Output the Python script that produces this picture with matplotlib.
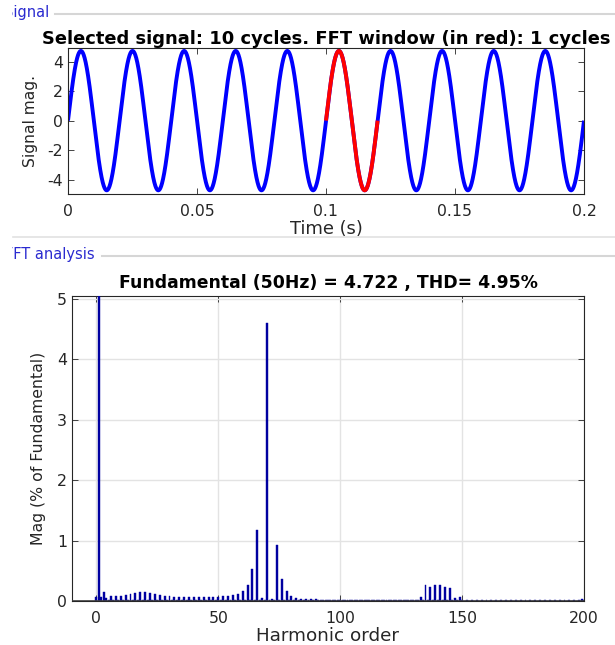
import numpy as np
import matplotlib
matplotlib.use("Agg")
import matplotlib.pyplot as plt
from matplotlib.lines import Line2D
from matplotlib.transforms import Bbox, TransformedBbox

plt.rcParams["font.family"] = ["DejaVu Sans"]
plt.rcParams["axes.unicode_minus"] = False

# --- top panel: selected signal ---
fundamental_hz = 50
fundamental_mag = 4.722
n_cycles = 10
window_start_s = 0.1
window_cycles = 1
time_ticks = [0, 0.05, 0.1, 0.15, 0.2]
time_tick_labels = ["0", "0.05", "0.1", "0.15", "0.2"]
signal_ticks = [-4, -2, 0, 2, 4]

# --- bottom panel: harmonic spectrum, % of fundamental, orders 0..200 ---
harmonic_mag = [
    0.07, 100.0, 0.06, 0.15, 0.05, 0.02, 0.08, 0.02, 0.08, 0.02,      # 0-9
    0.09, 0.02, 0.10, 0.02, 0.11, 0.02, 0.13, 0.02, 0.15, 0.02,       # 10-19
    0.15, 0.02, 0.14, 0.02, 0.12, 0.02, 0.10, 0.02, 0.09, 0.02,       # 20-29
    0.08, 0.02, 0.07, 0.02, 0.07, 0.02, 0.065, 0.02, 0.065, 0.02,     # 30-39
    0.065, 0.02, 0.06, 0.02, 0.06, 0.02, 0.06, 0.02, 0.06, 0.02,      # 40-49
    0.07, 0.02, 0.075, 0.02, 0.09, 0.02, 0.105, 0.02, 0.12, 0.02,     # 50-59
    0.17, 0.02, 0.27, 0.02, 0.53, 0.02, 1.18, 0.02, 0.055, 0.02,      # 60-69
    4.60, 0.02, 0.035, 0.02, 0.93, 0.02, 0.37, 0.02, 0.17, 0.02,      # 70-79
    0.09, 0.02, 0.055, 0.02, 0.04, 0.015, 0.03, 0.015, 0.03, 0.015,   # 80-89
    0.025, 0.01, 0.02, 0.01, 0.02, 0.01, 0.02, 0.01, 0.02, 0.01,      # 90-99
    0.02, 0.01, 0.02, 0.01, 0.02, 0.01, 0.02, 0.01, 0.02, 0.01,       # 100-109
    0.02, 0.01, 0.02, 0.01, 0.02, 0.01, 0.02, 0.01, 0.02, 0.01,       # 110-119
    0.02, 0.01, 0.02, 0.01, 0.02, 0.01, 0.02, 0.01, 0.02, 0.01,       # 120-129
    0.02, 0.02, 0.01, 0.07, 0.01, 0.26, 0.01, 0.24, 0.01, 0.27,       # 130-139
    0.01, 0.27, 0.01, 0.225, 0.01, 0.22, 0.01, 0.055, 0.01, 0.07,     # 140-149
    0.012, 0.0, 0.012, 0.0, 0.012, 0.0, 0.012, 0.0, 0.012, 0.0,       # 150-159
    0.012, 0.0, 0.012, 0.0, 0.012, 0.0, 0.012, 0.0, 0.012, 0.0,       # 160-169
    0.012, 0.0, 0.012, 0.0, 0.012, 0.0, 0.012, 0.0, 0.012, 0.0,       # 170-179
    0.012, 0.0, 0.012, 0.0, 0.012, 0.0, 0.012, 0.0, 0.012, 0.0,       # 180-189
    0.012, 0.0, 0.012, 0.0, 0.012, 0.0, 0.012, 0.0, 0.012, 0.03,      # 190-199
    0.012,                                                            # 200
]
harmonic_order = list(range(len(harmonic_mag)))
thd_pct = 4.95
order_ticks = [0, 50, 100, 150, 200]
mag_ticks = [0, 1, 2, 3, 4, 5]

W, H = 615, 645
fig = plt.figure(figsize=(W / 100, H / 100), dpi=100)
fig.patch.set_facecolor("white")


def fx(px):
    return px / W


def fy(py):
    return 1 - py / H


tick_col = "#262626"
blue_panel = "#2a2ad0"

# panel headers: the app clips them at the left border of the panel
panel_clip = TransformedBbox(Bbox([[fx(12), 0], [1, 1]]), fig.transFigure)
for label, x0, y0, line_x in [("Signal", 4, 13, 55), ("FFT analysis", 5, 255, 102)]:
    txt = fig.text(fx(x0), fy(y0), label, color=blue_panel, fontsize=10.5, va="center")
    txt.set_clip_box(panel_clip)
    txt.set_clip_on(True)
    fig.add_artist(Line2D([fx(line_x), 1], [fy(y0 + 1), fy(y0 + 1)],
                          transform=fig.transFigure, color="#d6d6d6", lw=1.5))
fig.add_artist(Line2D([fx(13), 1], [fy(236.5), fy(236.5)], transform=fig.transFigure,
                      color="#e2e2e2", lw=1.2))


def style_axes(ax):
    ax.tick_params(direction="in", length=4, top=True, right=True,
                   labelsize=11.3, colors=tick_col, labelcolor=tick_col, width=0.6)
    for sp in ax.spines.values():
        sp.set_color("#262626")
        sp.set_linewidth(0.8)


# ---- top axes ----
ax1 = fig.add_axes([fx(68), fy(194), fx(584 - 68), (194 - 48) / H])
t = np.linspace(0, n_cycles / fundamental_hz, 4001)
sig = fundamental_mag * np.sin(2 * np.pi * fundamental_hz * t)
ax1.plot(t, sig, color="#0000ff", lw=2.8, solid_capstyle="butt")
win_end = window_start_s + window_cycles / fundamental_hz
mask = (t >= window_start_s) & (t <= win_end)
ax1.plot(t[mask], sig[mask], color="#ff0000", lw=2.8, solid_capstyle="butt")
ax1.set_xlim(0, n_cycles / fundamental_hz)
ax1.set_ylim(-4.97, 4.92)
ax1.set_xticks(time_ticks)
ax1.set_xticklabels(time_tick_labels)
ax1.set_yticks(signal_ticks)
style_axes(ax1)
ax1.tick_params(axis="x", pad=7)
ax1.set_xlabel("Time (s)", fontsize=12.9, color=tick_col, labelpad=1)
ax1.set_ylabel("Signal mag.", fontsize=11.2, color=tick_col, labelpad=7)
ax1.set_title(f"Selected signal: {n_cycles} cycles. FFT window (in red): {window_cycles} cycles",
              fontsize=12.9, fontweight="bold", pad=3)

# ---- bottom axes ----
ax2 = fig.add_axes([fx(72), fy(601), fx(584 - 72), (601 - 296) / H])
ax2.bar(harmonic_order, harmonic_mag, width=0.8, color="#0000a0",
        edgecolor="#0000a0", linewidth=0.3, zorder=3)
ax2.axhline(0, color="#404040", lw=1.2, zorder=4)
ax2.set_xlim(-10, 200)
ax2.set_ylim(0, 5.05)
ax2.set_xticks(order_ticks)
ax2.set_yticks(mag_ticks)
ax2.grid(True, color="#e3e3e3", lw=1.0, zorder=0)
style_axes(ax2)
ax2.tick_params(axis="x", pad=7)
ax2.set_xlabel("Harmonic order", fontsize=13.2, color=tick_col, labelpad=1)
ax2.set_ylabel("Mag (% of Fundamental)", fontsize=11.3, color=tick_col, labelpad=8)
ax2.set_title(f"Fundamental ({fundamental_hz}Hz) = {fundamental_mag} , THD= {thd_pct}%",
              fontsize=12.4, fontweight="bold", pad=6)

fig.savefig("out.png", dpi=100)
